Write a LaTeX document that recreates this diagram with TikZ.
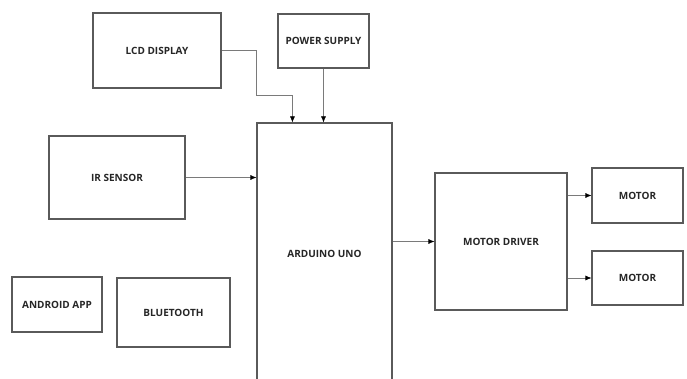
\documentclass[tikz,border=0pt]{standalone}
\usepackage{fontspec}
\setmainfont{Open Sans}
\usetikzlibrary{arrows.meta,calc}
\definecolor{boxline}{HTML}{5A5A5A}
\definecolor{arrline}{HTML}{7A7A7A}
\tikzset{
  lbl/.style={font=\bfseries\fontsize{10}{11}\selectfont,text=black!85},
  blk/.style={draw=boxline,line width=1.1pt,fill=white,inner sep=0pt,lbl},
  arr/.style={draw=arrline,line width=0.6pt,-{Latex[length=6pt,width=5pt,color=black]}},
}
\begin{document}
\begin{tikzpicture}[x=1pt,y=-1pt]
\useasboundingbox (0,0) rectangle (687,379);
\clip (0,0) rectangle (687,379);
\node[blk,minimum width=128pt,minimum height=75pt] (lcd) at (157,50.5) {LCD DISPLAY};
\node[blk,minimum width=91pt,minimum height=54pt] (ps) at (323.5,41) {POWER SUPPLY};
\node[blk,minimum width=136pt,minimum height=83pt] (ir) at (117,177.5) {IR SENSOR};
\node[blk,minimum width=90pt,minimum height=55pt] (app) at (57,304.5) {ANDROID APP};
\node[blk,minimum width=113pt,minimum height=69pt] (bt) at (173.5,312.5) {BLUETOOTH};
\node[blk,minimum width=135pt,minimum height=272pt] (ard) at (324.5,259) {};
\node[lbl] (ardl) at (324.5,254) {ARDUINO UNO};
\node[blk,minimum width=132pt,minimum height=137pt] (drv) at (501,241.5) {MOTOR DRIVER};
\node[blk,minimum width=91pt,minimum height=55pt] (m1) at (637.5,195.5) {MOTOR};
\node[blk,minimum width=91pt,minimum height=54pt] (m2) at (637.5,278) {MOTOR};
\coordinate (b1) at (256,95);
\draw[arr] (lcd.east) -| (b1) -| ($(ard.north west)+(36,0)$);
\draw[arr] (ps.south) -- (ps.south |- ard.north);
\draw[arr] (ir.east) -- (ir.east -| ard.west);
\draw[arr] (drv.west -| ard.east) -- (drv.west);
\draw[arr] (m1.west -| drv.east) -- (m1.west);
\draw[arr] (m2.west -| drv.east) -- (m2.west);
\end{tikzpicture}
\end{document}
